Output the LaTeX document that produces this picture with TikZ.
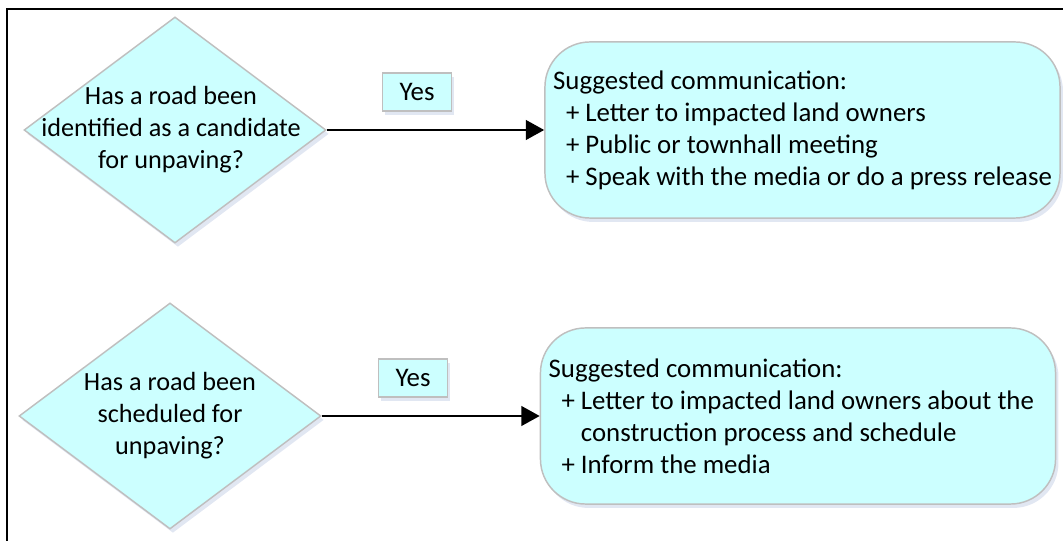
\documentclass[tikz,border=0pt]{standalone}
\usepackage{fontspec}
\setmainfont{Carlito}
\usetikzlibrary{shapes.geometric,arrows.meta,shadows}
\definecolor{boxfill}{HTML}{CCFFFF}
\definecolor{boxline}{HTML}{BFBFBF}
\definecolor{shadowblue}{HTML}{C9D3E8}
\tikzset{
  softshadow/.style={drop shadow={shadow xshift=1.2pt, shadow yshift=-1.6pt, fill=shadowblue, opacity=0.55}},
  decision/.style={diamond, draw=boxline, fill=boxfill, line width=0.6pt, inner sep=0pt,
    minimum width=123.8pt, minimum height=92.7pt, softshadow},
  decisiontext/.style={align=center, inner sep=0pt, font=\fontsize{10.75pt}{13.1pt}\selectfont},
  yesbox/.style={rectangle, draw=boxline, fill=boxfill, line width=0.6pt, inner sep=0pt,
    minimum width=28.3pt, minimum height=15.6pt, font=\fontsize{11pt}{13.1pt}\selectfont, softshadow},
  advice/.style={rectangle, rounded corners=18.5pt, draw=boxline, fill=boxfill, line width=0.6pt,
    inner xsep=3.35pt, text width=204.5pt, minimum height=72.2pt, align=flush left,
    font=\fontsize{11pt}{13.1pt}\selectfont, softshadow},
  flow/.style={-{Triangle[length=7.5pt,width=8pt]}, line width=1pt, black},
  frame/.style={draw=black, line width=0.8pt}
}
\begin{document}
\begin{tikzpicture}[x=0.41pt,y=-0.41pt]
  \useasboundingbox (0,0) rectangle (1063,541);
  \clip (0,0) rectangle (1063,541);
  \draw[frame] (7,9) rectangle (1090,570);

  % first question
  \node[decision] (q1) at (175,130) {};
  \node[decisiontext] (q1text) at (171,130) {Has a road been\\identified as a candidate\\for unpaving?};
  \node[yesbox] (yes1) at (417,92) {Yes};
  \node[advice] (s1) at (802.5,130) {Suggested communication:\\
    \hspace*{5.3pt}+ Letter to impacted land owners\\
    \hspace*{5.3pt}+ Public or townhall meeting\\
    \hspace*{5.3pt}+ Speak with the media or do a press release};
  \draw[flow] (q1.east) -- (s1.west);

  % second question
  \node[decision] (q2) at (170,416) {};
  \node[decisiontext] (q2text) at (q2) {Has a road been\\scheduled for\\unpaving?};
  \node[yesbox] (yes2) at (413,378) {Yes};
  \node[advice] (s2) at (798,416) {Suggested communication:\\
    \hspace*{5.3pt}+ Letter to impacted land owners about the\\
    \hspace*{5.3pt}\phantom{+ }construction process and schedule\\
    \hspace*{5.3pt}+ Inform the media};
  \draw[flow] (q2.east) -- (s2.west);
\end{tikzpicture}
\end{document}
